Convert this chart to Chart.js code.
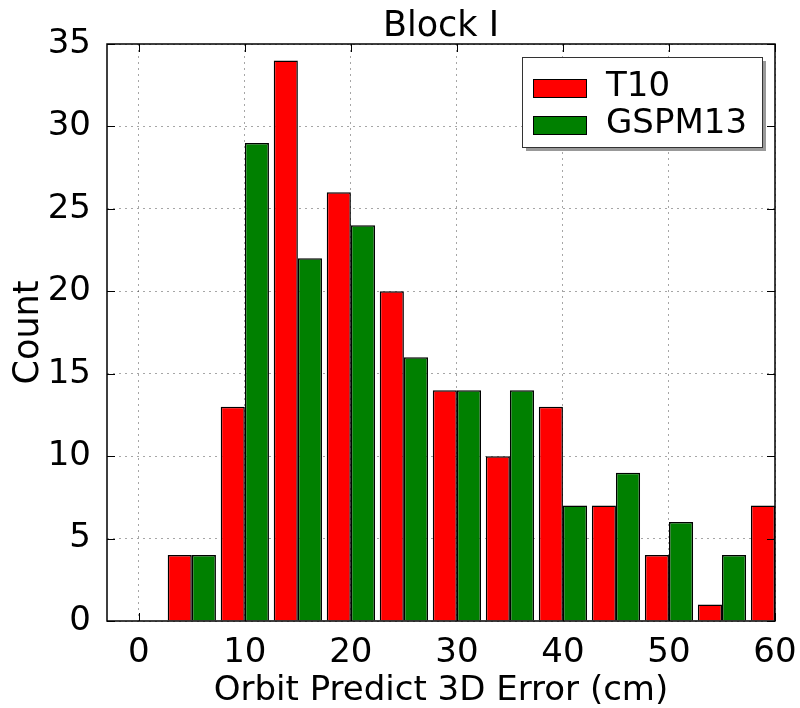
<!DOCTYPE html>
<html>
<head>
<meta charset="utf-8">
<title>Block I</title>
<script src="https://cdn.jsdelivr.net/npm/chart.js@4.4.1/dist/chart.umd.min.js"></script>
<style>
  html, body { margin: 0; padding: 0; background: #fff; }
  #wrap { width: 800px; height: 708px; }
</style>
</head>
<body>
<div id="wrap"><canvas id="errChart" width="800" height="708"></canvas></div>
<script>
// histogram bins (cm) and counts per model
const binCenters = [5, 10, 15, 20, 25, 30, 35, 40, 45, 50, 55, 60];
const t10Counts = [4, 13, 34, 26, 20, 14, 10, 13, 7, 4, 1, 7];
const gspm13Counts = [4, 29, 22, 24, 16, 14, 14, 7, 9, 6, 4, null];
const xTicks = [0, 10, 20, 30, 40, 50, 60];
const yTicks = [0, 5, 10, 15, 20, 25, 30, 35];

const FONT = 'DejaVu Sans';

function toPoints(counts) {
  return binCenters.map((x, i) => ({ x: x, y: counts[i] }));
}

// frame, inward ticks on all sides, and boxed legend with shadow
const frameAndLegend = {
  id: 'frameAndLegend',
  afterDatasetsDraw(chart) {
    const ctx = chart.ctx;
    const a = chart.chartArea;
    const xs = chart.scales.x, ys = chart.scales.y;
    ctx.save();
    ctx.strokeStyle = '#000';
    ctx.lineWidth = 1;
    ctx.beginPath();
    xTicks.forEach(v => {
      const px = Math.round(xs.getPixelForValue(v)) + 0.5;
      ctx.moveTo(px, a.bottom); ctx.lineTo(px, a.bottom - 8);
      ctx.moveTo(px, a.top); ctx.lineTo(px, a.top + 8);
    });
    yTicks.forEach(v => {
      const py = Math.round(ys.getPixelForValue(v)) + 0.5;
      ctx.moveTo(a.left, py); ctx.lineTo(a.left + 8, py);
      ctx.moveTo(a.right, py); ctx.lineTo(a.right - 8, py);
    });
    ctx.stroke();
    ctx.lineWidth = 1.5;
    ctx.strokeRect(a.left, a.top, a.right - a.left, a.bottom - a.top);

    // legend box
    const bx = 522, by = 57, bw = 240, bh = 90;
    ctx.fillStyle = '#999';
    ctx.fillRect(bx + 4, by + 4, bw, bh);
    ctx.fillStyle = '#fff';
    ctx.fillRect(bx, by, bw, bh);
    ctx.lineWidth = 1;
    ctx.strokeStyle = '#333';
    ctx.strokeRect(bx + 0.5, by + 0.5, bw, bh);
    ctx.font = '34px "' + FONT + '"';
    ctx.textBaseline = 'alphabetic';
    chart.data.datasets.forEach((ds, i) => {
      const ry = 79 + i * 37;
      ctx.fillStyle = ds.backgroundColor;
      ctx.fillRect(533, ry, 53, 18);
      ctx.strokeStyle = '#000';
      ctx.strokeRect(533.5, ry + 0.5, 53, 18);
      ctx.fillStyle = '#000';
      ctx.fillText(ds.label, 606, 96 + i * 37);
    });
    ctx.restore();
  }
};

const config = {
  type: 'bar',
  data: {
    datasets: [{
      label: 'T10',
      data: toPoints(t10Counts),
      backgroundColor: '#ff0000',
      borderColor: '#000',
      borderWidth: 1.5
    },
    {
      label: 'GSPM13',
      data: toPoints(gspm13Counts),
      backgroundColor: '#008000',
      borderColor: '#000',
      borderWidth: 1.5
    }]
  },
  options: {
    responsive: false,
    animation: false,
    devicePixelRatio: 1,
    categoryPercentage: 0.91,
    barPercentage: 1.0,
    layout: { padding: { top: 0, right: 25, left: 0, bottom: 0 } },
    plugins: {
      legend: { display: false },
      tooltip: { enabled: false },
      title: {
        display: true,
        text: 'Block I',
        color: '#000',
        fullSize: false,
        font: { family: FONT, size: 35, weight: 'normal', lineHeight: 1.0 },
        padding: { top: 9, bottom: 0 }
      }
    },
    scales: {
      x: {
        type: 'linear',
        offset: false,
        min: -3,
        max: 60,
        ticks: {
          stepSize: 10,
          includeBounds: false,
          color: '#000',
          padding: 12,
          font: { family: FONT, size: 34 }
        },
        afterBuildTicks: (scale) => {
          scale.ticks = xTicks.map(v => ({ value: v }));
        },
        afterFit: (scale) => {
          scale.height = 87;
          scale.paddingLeft = 0;
          scale.paddingRight = 0;
        },
        grid: { color: 'rgba(0,0,0,0.35)', drawTicks: false, offset: false, lineWidth: 1 },
        border: { display: false, dash: [2, 4] },
        title: {
          display: true,
          text: 'Orbit Predict 3D Error (cm)',
          color: '#000',
          font: { family: FONT, size: 34 },
          padding: { top: 0, bottom: -4 }
        }
      },
      y: {
        min: 0,
        max: 35,
        ticks: {
          stepSize: 5,
          color: '#000',
          padding: 16,
          font: { family: FONT, size: 34 }
        },
        afterFit: (scale) => {
          scale.width = 107;
          scale.paddingTop = 0;
          scale.paddingBottom = 0;
        },
        grid: { color: 'rgba(0,0,0,0.35)', drawTicks: false, lineWidth: 1 },
        border: { display: false, dash: [2, 4] },
        title: {
          display: true,
          text: 'Count',
          color: '#000',
          font: { family: FONT, size: 35 },
          padding: { top: 8, bottom: 0 }
        }
      }
    }
  },
  plugins: [frameAndLegend]
};

const errChart = new Chart(document.getElementById('errChart'), config);
</script>
</body>
</html>
